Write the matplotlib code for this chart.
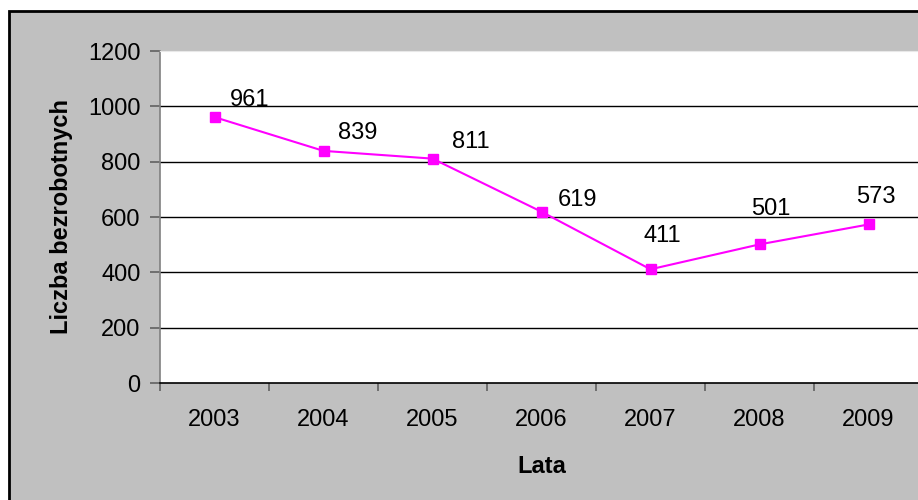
import matplotlib
matplotlib.use("Agg")
import matplotlib.pyplot as plt
from matplotlib.patches import Rectangle

plt.rcParams['font.family'] = ['Liberation Sans', 'DejaVu Sans']

# Dane
lata = ["2003", "2004", "2005", "2006", "2007", "2008", "2009"]
bezrobotni = [961, 839, 811, 619, 411, 501, 573]
y_ticks = [0, 200, 400, 600, 800, 1000, 1200]

# przesuniecia etykiet danych (piksele)
przes_x = [35, 34, 38, 36, 12, 11, 7]
przes_y = [17, 18, 17, 12, 33, 35, 27]

W, H = 918, 500
fig = plt.figure(figsize=(W / 100, H / 100), dpi=100)
fig.patch.set_facecolor("white")

# Tło wykresu (szare) z czarną ramką
tlo = Rectangle((9 / W, -0.01), 1.0, (H - 11) / H + 0.01,
                transform=fig.transFigure, facecolor="#c0c0c0",
                edgecolor="black", linewidth=2, zorder=-10)
fig.patches.append(tlo)

ax = fig.add_axes([160 / W, (H - 383) / H, (923 - 160) / W, (383 - 51) / H])
ax.set_zorder(1)
ax.set_facecolor("white")

x = list(range(len(lata)))
ax.plot(x, bezrobotni, color="#ff00ff", linewidth=1.5, marker="s",
        markersize=7, markerfacecolor="#ff00ff", markeredgecolor="#ff00ff",
        zorder=3, clip_on=False)

for xi, v, dx, dy in zip(x, bezrobotni, przes_x, przes_y):
    ax.annotate(str(v), (xi, v), xytext=(dx * 0.72, dy * 0.72),
                textcoords="offset points", ha="center", va="center",
                fontsize=17, zorder=4)

ax.set_xlim(-0.5, len(lata) - 0.5)
ax.set_ylim(0, 1200)
ax.set_yticks(y_ticks)
ax.set_xticks(x)
ax.set_xticklabels(lata)
ax.set_xticks([i + 0.5 for i in range(-1, len(lata))], minor=True)
ax.tick_params(axis="x", which="major", length=0, pad=19, labelsize=17)
ax.tick_params(axis="x", which="minor", length=6, width=1.2, color="#606060",
               direction="out")
ax.tick_params(axis="y", length=7, width=1.2, color="#606060", pad=7,
               labelsize=17)

for yv in y_ticks[1:-1]:
    ax.axhline(yv, color="black", linewidth=1, zorder=1)

ax.spines["top"].set_color("#e8e8e8")
ax.spines["right"].set_visible(False)
ax.spines["left"].set_color("#808080")
ax.spines["left"].set_linewidth(1.2)
ax.spines["bottom"].set_color("black")
ax.spines["bottom"].set_linewidth(1.2)

ax.set_xlabel("Lata", fontsize=17, fontweight="bold", labelpad=17)
ax.set_ylabel("Liczba bezrobotnych", fontsize=17, fontweight="bold",
              labelpad=11)

fig.savefig("out.png", dpi=100, facecolor=fig.get_facecolor())
